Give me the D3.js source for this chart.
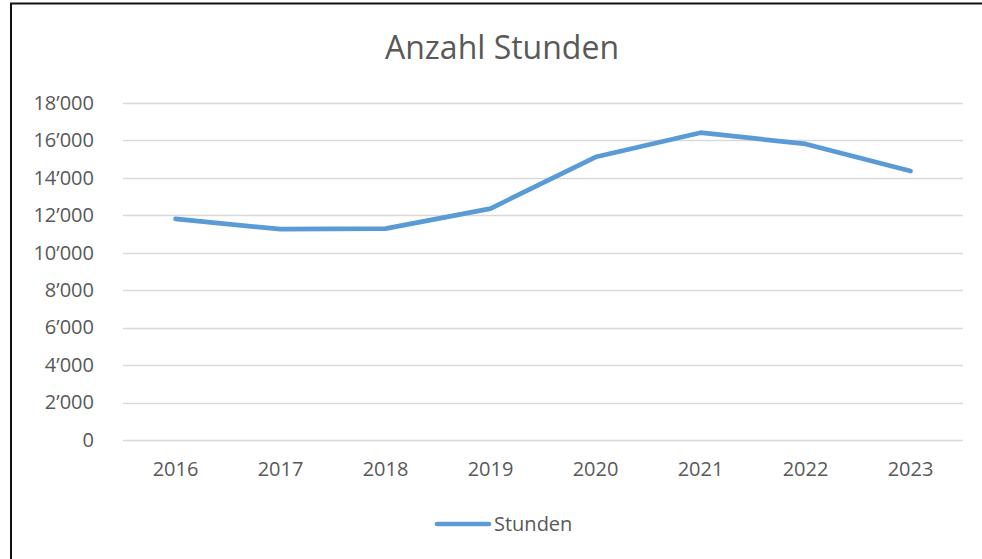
<!DOCTYPE html>
<html>
<head>
<meta charset="utf-8">
<script src="https://cdn.jsdelivr.net/npm/d3@7"></script>
<style>
  html, body { margin: 0; padding: 0; background: #fff; }
  svg { display: block; font-family: "Open Sans", "Noto Sans", sans-serif; }
</style>
</head>
<body>
<div id="chart"></div>
<script>
// Chart data
const years = ["2016", "2017", "2018", "2019", "2020", "2021", "2022", "2023"];
const stunden = [11800, 11250, 11280, 12350, 15100, 16400, 15800, 14350];
const yTicks = [0, 2000, 4000, 6000, 8000, 10000, 12000, 14000, 16000, 18000];
const seriesName = "Stunden";
const chartTitle = "Anzahl Stunden";

const width = 982, height = 559;
const margin = {top: 102.7, right: 19, bottom: 119, left: 123};
const textColor = "#595959";
const lineColor = "#5B9BD5";

const svg = d3.select("#chart")
  .append("svg")
  .attr("width", width)
  .attr("height", height);

// Outer frame (right and bottom edges fall outside the picture)
svg.append("rect")
  .attr("x", 11)
  .attr("y", 3.5)
  .attr("width", width + 20)
  .attr("height", height + 20)
  .attr("fill", "#fff")
  .attr("stroke", "#111")
  .attr("stroke-width", 2);

const locale = d3.formatLocale({decimal: ".", thousands: "\u2019", grouping: [3], currency: ["", ""]});
const fmt = locale.format(",");

const x = d3.scaleBand()
  .domain(years)
  .range([margin.left, width - margin.right]);

const y = d3.scaleLinear()
  .domain([0, 18000])
  .range([height - margin.bottom, margin.top]);

// Gridlines
svg.append("g")
  .selectAll("line")
  .data(yTicks)
  .join("line")
  .attr("x1", margin.left)
  .attr("x2", width - margin.right)
  .attr("y1", d => Math.round(y(d)) + 0.5)
  .attr("y2", d => Math.round(y(d)) + 0.5)
  .attr("stroke", "#d9d9d9")
  .attr("stroke-width", 1.3);

// Y axis labels
const yAxis = svg.append("g")
  .attr("transform", `translate(${margin.left - 29},0)`)
  .call(d3.axisLeft(y).tickValues(yTicks).tickFormat(fmt).tickSize(0).tickPadding(0));
yAxis.select(".domain").remove();
yAxis.selectAll("text")
  .attr("fill", textColor)
  .style("font-size", "20px")
  .style("font-family", "'Open Sans', sans-serif");

// X axis labels
const xAxis = svg.append("g")
  .attr("transform", `translate(0,${height - margin.bottom})`)
  .call(d3.axisBottom(x).tickSize(0).tickPadding(22));
xAxis.select(".domain").remove();
xAxis.selectAll("text")
  .attr("fill", textColor)
  .style("font-size", "20px")
  .style("font-family", "'Open Sans', sans-serif");

// Line
const line = d3.line()
  .x((d, i) => x(years[i]) + x.bandwidth() / 2)
  .y(d => y(d));

svg.append("path")
  .datum(stunden)
  .attr("d", line)
  .attr("fill", "none")
  .attr("stroke", lineColor)
  .attr("stroke-width", 4.7)
  .attr("stroke-linecap", "round")
  .attr("stroke-linejoin", "round");

// Title
svg.append("text")
  .attr("x", 502)
  .attr("y", 59)
  .attr("text-anchor", "middle")
  .attr("fill", textColor)
  .style("font-size", "32px")
  .text(chartTitle);

// Legend
const legend = svg.append("g");
legend.append("line")
  .attr("x1", 437).attr("x2", 489)
  .attr("y1", 524).attr("y2", 524)
  .attr("stroke", lineColor)
  .attr("stroke-width", 4.7)
  .attr("stroke-linecap", "round");
legend.append("text")
  .attr("x", 494)
  .attr("y", 531)
  .attr("fill", textColor)
  .style("font-size", "20px")
  .text(seriesName);
</script>
</body>
</html>
